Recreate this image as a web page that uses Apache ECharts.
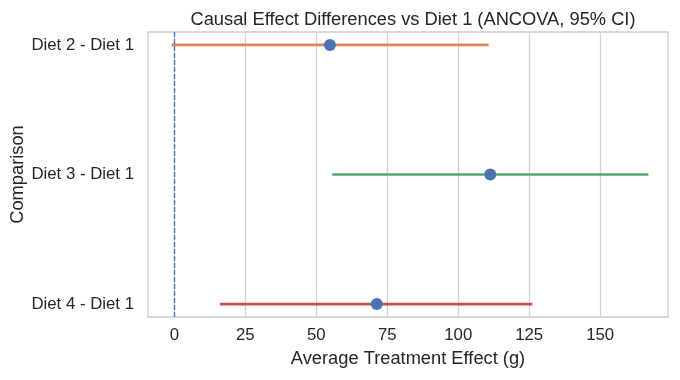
<!DOCTYPE html>
<html><head><meta charset="utf-8">
<script src="https://cdn.jsdelivr.net/npm/echarts@6/dist/echarts.min.js"></script>
<style>html,body{margin:0;padding:0;background:#fff}#c{width:680px;height:380px}</style>
</head><body><div id="c"></div>
<script>
const comparisons = ['Diet 2 - Diet 1', 'Diet 3 - Diet 1', 'Diet 4 - Diet 1'];
const estimates = [54.8, 111.3, 71.3];
const ciLower = [-1.0, 55.6, 16.1];
const ciUpper = [110.7, 167.0, 126.1];
const lineColors = ['#dd8452', '#55a868', '#c44e52'];
const xTicks = [0, 25, 50, 75, 100, 125, 150];

const font = '"Liberation Sans", Arial, sans-serif';
const txt = '#262626';
const chart = echarts.init(document.getElementById('c'));
const series = [];
comparisons.forEach((c, i) => {
  series.push({
    type: 'line', data: [[ciLower[i], i], [ciUpper[i], i]],
    symbol: 'none', lineStyle: {color: lineColors[i], width: 2.7}, z: 3, silent: true
  });
});
series.push({
  type: 'scatter', data: estimates.map((v, i) => [v, i]), symbolSize: 12,
  itemStyle: {color: '#4c72b0', opacity: 1}, z: 5,
  markLine: {silent: true, symbol: 'none', label: {show: false},
    lineStyle: {color: '#4472c4', type: [5, 2], width: 1.3},
    data: [{xAxis: 0}]}
});
chart.setOption({
  animation: false,
  title: {text: 'Causal Effect Differences vs Diet 1 (ANCOVA, 95% CI)', left: 408, textAlign: 'center', top: 6,
    textStyle: {fontFamily: font, fontSize: 18.3, fontWeight: 'normal', color: txt}},
  grid: {left: 148, right: 12, top: 32, bottom: 63, show: true, borderColor: '#cccccc', borderWidth: 1.3,
    outerBoundsMode: 'none', containLabel: false},
  xAxis: {type: 'value', min: -9.3, max: 173.9,
    name: 'Average Treatment Effect (g)', nameLocation: 'middle', nameGap: 33, nameMoveOverlap: false,
    nameTextStyle: {fontFamily: font, fontSize: 18.3, color: txt},
    axisLine: {show: false}, axisTick: {show: false, customValues: xTicks},
    axisLabel: {fontFamily: font, fontSize: 16.8, color: txt, margin: 10, customValues: xTicks},
    splitLine: {show: true, lineStyle: {color: '#d3d3d3', width: 1.3}}},
  yAxis: {type: 'value', min: -0.1, max: 2.1, inverse: true,
    name: 'Comparison', nameLocation: 'middle', nameGap: 121, nameMoveOverlap: false,
    nameTextStyle: {fontFamily: font, fontSize: 18.3, color: txt},
    axisLine: {show: false}, axisTick: {show: false, customValues: [0, 1, 2]}, splitLine: {show: false},
    axisLabel: {fontFamily: font, fontSize: 16.8, color: txt, margin: 14, customValues: [0, 1, 2],
      formatter: v => comparisons[Math.round(v)]}},
  series: series
});
</script></body></html>
